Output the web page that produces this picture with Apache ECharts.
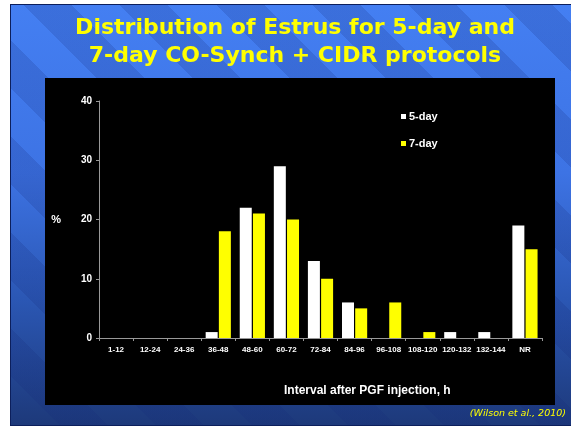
<!DOCTYPE html>
<html>
<head>
<meta charset="utf-8">
<script src="https://cdn.jsdelivr.net/npm/echarts@6/dist/echarts.min.js"></script>
<style>
  html, body { margin: 0; padding: 0; background: #fff; }
  #slide {
    position: absolute; left: 10px; top: 4px; width: 560px; height: 420px;
    border: 1px solid #0c1f5c; border-right: none;
    background:
      repeating-linear-gradient(45deg, rgba(255,255,255,0) 0px, rgba(255,255,255,0) 34px, rgba(20,40,120,0.18) 34px, rgba(20,40,120,0.18) 68px),
      linear-gradient(to bottom, #447ff2 0%, #3d73e4 40%, #2b57b4 70%, #1d397a 100%);
  }
  #box { position: absolute; left: 45px; top: 78px; width: 510px; height: 327px; background: #000; }
  #main { position: absolute; left: 0; top: 0; width: 571px; height: 426px; }
</style>
</head>
<body>
<div id="slide"></div>
<div id="box"></div>
<div id="main"></div>
<script>
// interval after PGF injection (h)
var categories = ['1-12', '12-24', '24-36', '36-48', '48-60', '60-72', '72-84', '84-96', '96-108', '108-120', '120-132', '132-144', 'NR']
// % of cows in estrus
var fiveDay = [0, 0, 0, 1, 22, 29, 13, 6, 0, 0, 1, 1, 19]
var sevenDay = [0, 0, 0, 18, 21, 20, 10, 5, 6, 1, 0, 0, 15]
var yTicks = [0, 10, 20, 30, 40]

var chart = echarts.init(document.getElementById('main'))
var options = {
  backgroundColor: 'transparent',
  animation: false,
  title: {
    text: 'Distribution of Estrus for 5-day and\n7-day CO-Synch + CIDR protocols',
    left: 290,
    top: 9,
    textAlign: 'center',
    textStyle: {
      color: '#ffff00',
      fontFamily: 'DejaVu Sans',
      fontWeight: 'bold',
      fontSize: 22,
      lineHeight: 28
    }
  },
  legend: {
    data: ['5-day', '7-day'],
    orient: 'vertical',
    left: 396,
    top: 106,
    itemWidth: 5,
    itemHeight: 5,
    itemGap: 16,
    icon: 'rect',
    textStyle: {
      color: '#fff',
      fontFamily: 'Liberation Sans',
      fontWeight: 'bold',
      fontSize: 11,
      padding: [0, 0, 0, -2]
    }
  },
  grid: {
    left: 99,
    right: 29,
    top: 101,
    bottom: 88
  },
  xAxis: {
    type: 'category',
    data: categories,
    axisLine: { lineStyle: { color: '#999', width: 1 } },
    axisTick: { show: true, length: 3, lineStyle: { color: '#999' } },
    axisLabel: {
      color: '#fff',
      fontFamily: 'Liberation Sans',
      fontWeight: 'bold',
      fontSize: 8,
      margin: 8,
      interval: 0
    }
  },
  yAxis: {
    type: 'value',
    min: yTicks[0],
    max: yTicks[yTicks.length - 1],
    interval: 10,
    name: '%',
    nameLocation: 'middle',
    nameRotate: 0,
    nameGap: 38,
    nameTextStyle: {
      color: '#fff',
      fontFamily: 'Liberation Sans',
      fontWeight: 'bold',
      fontSize: 11
    },
    axisLine: { show: true, lineStyle: { color: '#999', width: 1 } },
    axisTick: { show: true, length: 3, lineStyle: { color: '#999' } },
    splitLine: { show: false },
    axisLabel: {
      color: '#fff',
      fontFamily: 'Liberation Sans',
      fontWeight: 'bold',
      fontSize: 10,
      margin: 7
    }
  },
  graphic: [
    {
      type: 'text',
      left: 370 - 86,
      top: 385,
      style: {
        text: 'Interval after PGF injection, h',
        fill: '#fff',
        font: 'bold 12px "Liberation Sans"'
      }
    },
    {
      type: 'text',
      right: 5,
      top: 409,
      style: {
        text: '(Wilson et al., 2010)',
        fill: '#ffff00',
        font: 'italic 9.5px "DejaVu Sans"'
      }
    }
  ],
  series: [
    {
      name: '5-day',
      type: 'bar',
      data: fiveDay,
      barWidth: 12,
      barGap: '10%',
      itemStyle: { color: '#ffffff' }
    },
    {
      name: '7-day',
      type: 'bar',
      data: sevenDay,
      barWidth: 12,
      itemStyle: { color: '#ffff00' }
    }
  ]
}
chart.setOption(options)
</script>
</body>
</html>
